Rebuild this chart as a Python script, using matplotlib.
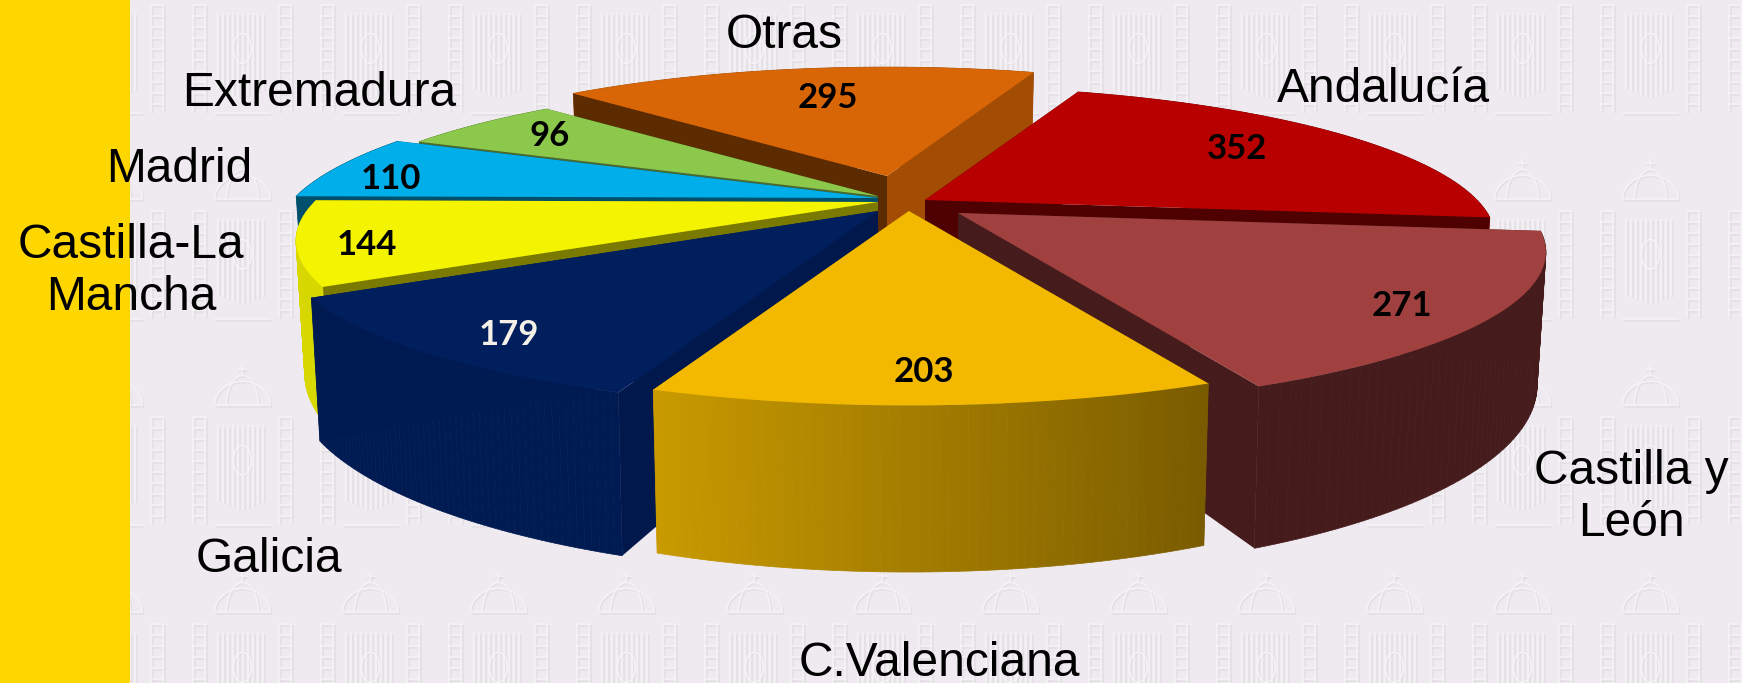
import numpy as np
import matplotlib
matplotlib.use('Agg')
import matplotlib.pyplot as plt
from matplotlib.collections import LineCollection, PolyCollection
from matplotlib.colors import to_rgb

regiones = ['Andalucía', 'Castilla y\nLeón', 'C.Valenciana', 'Galicia',
            'Castilla-La\nMancha', 'Madrid', 'Extremadura', 'Otras']
valores = [352, 271, 203, 179, 144, 110, 96, 295]

col_top = ['#B80000', '#A0403F', '#F3B800', '#001F5C', '#F4F400', '#00AEEA', '#8CC84B', '#D96606']
col_wall_a = ['#7A0000', '#451B1B', '#7A5C00', '#001A52', '#D8D800', '#005A78', '#5E8A30', '#A34C04']
col_wall_b = ['#7A0000', '#451B1B', '#C89A00', '#001A52', '#D8D800', '#005A78', '#5E8A30', '#A34C04']
col_side_start = ['#4F0000', '#451B1B', '#7A5C00', '#00184C', '#7A7A00', '#004F6B', '#4A6A30', '#5C2C00']
col_side_end = ['#4F0000', '#451B1B', '#C89A00', '#00184C', '#7A7A00', '#004F6B', '#4A6A30', '#A34C04']
col_val = ['black', 'black', 'black', '#F4F0E8', 'black', 'black', 'black', 'black']

# donde queda el vertice de cada porcion (pie explotado), en pixeles
apex_x = [925, 958, 909, 878, 878, 878, 878, 887]
apex_y = [200, 213, 211, 211, 202, 198, 196, 176]
# radio relativo de cada porcion
radio = [0.96, 0.99, 0.985, 1.0, 0.98, 1.015, 0.97, 0.92]
orden = [7, 6, 5, 4, 3, 0, 1, 2]

pos_reg = [(1383, 90), (1631, 497), (939, 663), (269, 559), (131, 271), (179, 170), (319, 94), (784, 35)]
pos_val = [(1237, 149), (1402, 306), (924, 372), (509, 335), (367, 245), (391, 179), (550, 136), (828, 98)]

W, H = 1742, 683
A, B, K = 575.0, 148.0, 0.25
ALTO = 125.0
INICIO = 20.0


def proyecta(th):
    X = np.sin(np.radians(th))
    Y = np.cos(np.radians(th))
    s = 1 / (1 + K * Y)
    return A * X * s, -B * Y * s, s


fig = plt.figure(figsize=(W / 100, H / 100), dpi=100)
ax = fig.add_axes([0, 0, 1, 1])
ax.set_xlim(0, W)
ax.set_ylim(H, 0)
ax.axis('off')
fig.patch.set_facecolor('#EEEAEF')

# marca de agua: escudo repetido
seg = []
for px in [-43, 43]:
    for yy in np.arange(52, 160, 11):
        seg.append([(px - 7, yy), (px + 7, yy)])
    seg.append([(px - 6, 52), (px - 6, 158)])
    seg.append([(px + 6, 52), (px + 6, 158)])
for xx in np.arange(-24, 25, 5):
    seg.append([(xx, 60), (xx, 145 - abs(xx) * 0.4)])
t = np.linspace(0, 2 * np.pi, 30)
seg.append(np.c_[9 * np.cos(t), 95 + 15 * np.sin(t)])
t = np.linspace(np.pi, 2 * np.pi, 20)
seg.append(np.c_[28 * np.cos(t), 40 + 24 * np.sin(t)])
seg.append(np.c_[16 * np.cos(t), 40 + 30 * np.sin(t)])
seg.append([(-28, 40), (28, 40)])
seg.append([(0, 0), (0, 10)])
seg.append([(-5, 4), (5, 4)])
seg.append([(-28, 160), (28, 160)])
marcas_luz, marcas_sombra = [], []
for cx in np.arange(-13, W, 128) + 128:
    for cy in [-46, 160, 366, 573]:
        for s_ in seg:
            p = np.asarray(s_, dtype=float) + [cx, cy]
            marcas_luz.append(p - 0.7)
            marcas_sombra.append(p + 0.7)
ax.add_collection(LineCollection(marcas_sombra, colors='#E3DFE5', linewidths=1.1, zorder=1))
ax.add_collection(LineCollection(marcas_luz, colors='#F5F3F6', linewidths=1.1, zorder=1.1))

# franja amarilla
ax.axvspan(0, 130, color='#FFD700', lw=0, zorder=2)

# angulos de las porciones a partir de los valores
total = sum(valores)
ang = [INICIO]
for v in valores:
    ang.append(ang[-1] + v / total * 360)

z = 3
for i in orden:
    th = np.linspace(ang[i], ang[i + 1], 60)
    dx, dy, s = proyecta(th)
    dx, dy = dx * radio[i], dy * radio[i]
    ax0, ay0 = apex_x[i], apex_y[i]
    xt, yt = ax0 + dx, ay0 + dy
    xb, yb = ax0 + dx * 0.985, ay0 + dy + ALTO * s

    # las porciones de atras llevan la pared exterior detras de las radiales
    atras = np.cos(np.radians((ang[i] + ang[i + 1]) / 2)) > 0
    z_rad = z + 1 if atras else z
    z_ext = z if atras else z + 1

    # paredes radiales
    ax.fill([ax0, xt[0], xb[0], ax0], [ay0, yt[0], yb[0], ay0 + ALTO],
            color=col_side_start[i], lw=0, zorder=z_rad)
    ax.fill([ax0, xt[-1], xb[-1], ax0], [ay0, yt[-1], yb[-1], ay0 + ALTO],
            color=col_side_end[i], lw=0, zorder=z_rad)

    # pared exterior, con degradado
    c1, c2 = np.array(to_rgb(col_wall_a[i])), np.array(to_rgb(col_wall_b[i]))
    quads, cols = [], []
    for j in range(len(th) - 1):
        quads.append([(xt[j], yt[j]), (xt[j + 1], yt[j + 1]), (xb[j + 1], yb[j + 1]), (xb[j], yb[j])])
        f = j / (len(th) - 2)
        cols.append(c1 + (c2 - c1) * f)
    ax.add_collection(PolyCollection(quads, facecolors=cols, edgecolors=cols, linewidths=0.5, zorder=z_ext))

    # tapa
    ax.fill(np.r_[ax0, xt], np.r_[ay0, yt], color=col_top[i], lw=0, zorder=z + 2)
    z += 3

for i in range(len(valores)):
    ax.text(pos_reg[i][0], pos_reg[i][1], regiones[i], ha='center', va='center', color='black',
            family='Liberation Sans', fontsize=34.5, linespacing=1.2, zorder=z)
    ax.text(pos_val[i][0], pos_val[i][1], str(valores[i]), ha='center', va='center', color=col_val[i],
            family='Lato', weight='bold', fontsize=25, zorder=z)

plt.savefig('out.png', dpi=100, facecolor=fig.get_facecolor())
